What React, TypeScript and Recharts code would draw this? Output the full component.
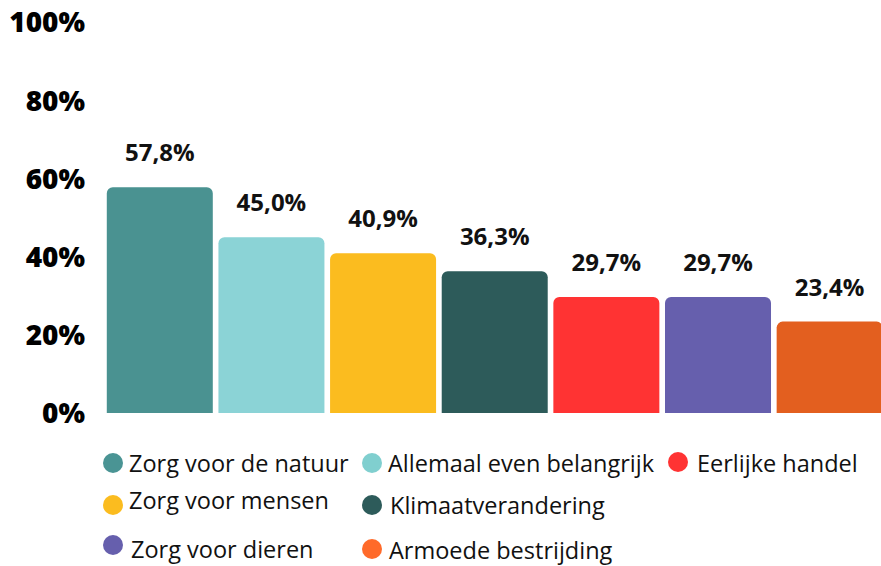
import React from "react";
import { BarChart, Bar, XAxis, YAxis, Cell, LabelList } from "recharts";

// categories in bar order
const categories = [
  "Zorg voor de natuur",
  "Allemaal even belangrijk",
  "Zorg voor mensen",
  "Klimaatverandering",
  "Eerlijke handel",
  "Zorg voor dieren",
  "Armoede bestrijding",
];
const values = [57.8, 45.0, 40.9, 36.3, 29.7, 29.7, 23.4];
const barColors = ["#4a9291", "#8bd3d6", "#fbbc1f", "#2d5b5a", "#ff3333", "#665fad", "#e35f1f"];
const legendColors = ["#4a9494", "#80cfcf", "#fbbc1f", "#2d5b5a", "#ff3333", "#665fad", "#ff6a2a"];
const yTicks = [0, 20, 40, 60, 80, 100];

// legend item placement (same order as categories)
const legendLayout = [
  { x: 103, y: 453, tx: 129, ty: 463 },
  { x: 362, y: 453, tx: 388, ty: 463 },
  { x: 103, y: 495, tx: 129, ty: 500 },
  { x: 362, y: 495, tx: 390, ty: 505 },
  { x: 668, y: 452, tx: 697, ty: 463 },
  { x: 103, y: 535, tx: 131, ty: 549 },
  { x: 362, y: 539, tx: 389, ty: 550 },
];

const data = categories.map((name, i) => ({ name, value: values[i] }));

const fmt = (v: number) => `${v.toFixed(1).replace(".", ",")}%`;

export default function App() {
  return (
    <div
      style={{
        position: "fixed",
        left: 0,
        top: 0,
        width: 881,
        height: 566,
        overflow: "hidden",
        background: "#fff",
        fontFamily: "'Open Sans', sans-serif",
      }}
    >
      <BarChart
        width={890}
        height={566}
        data={data}
        margin={{ top: 22.5, right: 4.5, left: 0, bottom: 153 }}
        barCategoryGap="2.5%"
      >
        <XAxis dataKey="name" hide />
        <YAxis
          width={104}
          domain={[0, 100]}
          ticks={yTicks}
          tickFormatter={(v) => `${v}%`}
          axisLine={false}
          tickLine={false}
          tickSize={0}
          tickMargin={19}
          tick={{ fill: "#000", fontSize: 28, fontWeight: 800, fontFamily: "'Open Sans', sans-serif" }}
        />
        <Bar dataKey="value" radius={[6, 6, 0, 0]} isAnimationActive={false}>
          {data.map((d, i) => (
            <Cell key={d.name} fill={barColors[i]} />
          ))}
          <LabelList
            dataKey="value"
            position="top"
            offset={26}
            formatter={(v: any) => fmt(Number(v))}
            style={{ fill: "#111", fontSize: 24, fontWeight: 700, fontFamily: "'Open Sans', sans-serif" }}
          />
        </Bar>
      </BarChart>
      {categories.map((name, i) => {
        const p = legendLayout[i];
        return (
          <React.Fragment key={name}>
            <div
              style={{
                position: "absolute",
                left: p.x,
                top: p.y,
                width: 20,
                height: 20,
                borderRadius: "50%",
                background: legendColors[i],
              }}
            />
            <div
              style={{
                position: "absolute",
                left: p.tx,
                top: p.ty - 16,
                fontSize: 23.5,
                lineHeight: "32px",
                color: "#111",
                whiteSpace: "nowrap",
              }}
            >
              {name}
            </div>
          </React.Fragment>
        );
      })}
    </div>
  );
}
